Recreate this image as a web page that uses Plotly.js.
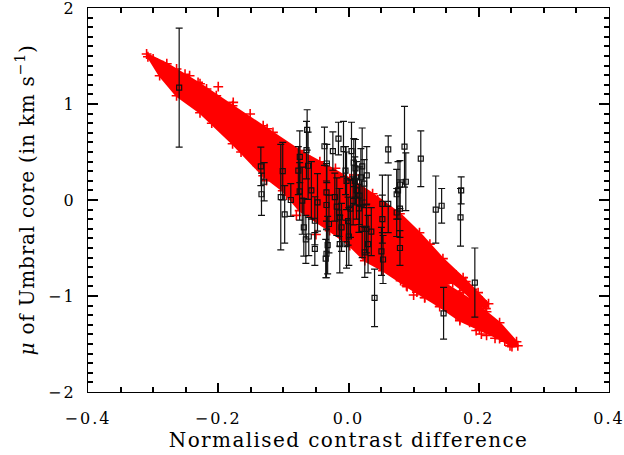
<!DOCTYPE html>
<html>
<head>
<meta charset="utf-8">
<script src="https://cdn.plot.ly/plotly-3.0.1.min.js"></script>
<style>
html,body{margin:0;padding:0;background:#fff;}
#chart{width:624px;height:455px;}
.xtick text,.ytick text{letter-spacing:2px;}
.xtitle{letter-spacing:1.4px;}
.ytitle{letter-spacing:0.8px;}
</style>
</head>
<body>
<div id="chart"></div>
<script>
// Observed points: normalised contrast difference vs mu of umbral core, with 1-sigma errors
const obsX = [-0.260,-0.1346,-0.1295,-0.1336,-0.101,-0.104,-0.098,-0.0886,-0.0748,-0.077,-0.075,-0.071,-0.0686,-0.0655,-0.0635,-0.0645,-0.062,-0.061,-0.0517,-0.0517,-0.0476,-0.0369,-0.0333,-0.0338,-0.0338,-0.032,-0.0338,-0.035,-0.030,-0.024,-0.0154,-0.0077,-0.021,-0.018,-0.0144,-0.0134,-0.0107,-0.0134,-0.0046,-0.003,0.0046,0.0081,0.0107,0.0097,0.0123,0.0071,0.003,-0.0006,0.0005,-0.003,0.021,0.019,0.024,0.017,0.016,0.021,0.025,0.030,0.028,0.040,0.0506,0.052,0.052,0.061,0.061,0.074,0.076,0.079,0.079,0.074,0.086,0.088,0.079,0.111,0.134,0.143,0.173,0.172,0.146,0.194,0.053,0.035,-0.057,0.0276];
const obsY = [1.17,0.35,0.19,0.06,0.30,0.03,-0.15,0.00,0.45,0.305,0.09,-0.007,-0.285,-0.41,0.73,0.52,0.357,-0.38,-0.51,-0.216,-0.025,0.56,0.38,0.08,-0.052,-0.47,-0.56,-0.61,-0.25,0.51,0.64,0.53,0.03,-0.07,-0.13,-0.18,-0.285,-0.46,0.305,0.20,0.51,0.39,0.33,0.20,0.10,-0.01,-0.09,-0.22,-0.38,-0.46,0.35,0.235,0.17,0.045,-0.087,-0.30,-0.545,-0.46,0.256,-1.02,-0.535,-0.04,-0.20,0.527,-0.04,0.06,0.10,0.16,-0.09,-0.13,0.555,0.19,-0.50,0.43,-0.10,-0.06,0.10,-0.18,-1.18,-0.86,-0.62,-0.33,0.10,-0.30];
const obsErr = [0.62,0.20,0.20,0.22,0.30,0.55,0.30,0.17,0.27,0.25,0.30,0.35,0.30,0.25,0.21,0.30,0.35,0.20,0.17,0.25,0.30,0.20,0.20,0.30,0.25,0.30,0.25,0.20,0.30,0.20,0.17,0.29,0.25,0.30,0.25,0.30,0.25,0.30,0.25,0.30,0.30,0.25,0.30,0.25,0.30,0.25,0.30,0.25,0.30,0.25,0.40,0.30,0.25,0.30,0.25,0.30,0.26,0.30,0.30,0.30,0.25,0.30,0.25,0.14,0.30,0.26,0.30,0.25,0.30,0.25,0.42,0.30,0.18,0.29,0.35,0.18,0.14,0.30,0.27,0.36,0.25,0.25,0.30,0.25];

// Model band outline (red region)
const bandX = [-0.310,-0.279,-0.228,-0.178,-0.125,-0.075,-0.044,0.002,0.037,0.079,0.109,0.145,0.176,0.199,0.215,0.211,0.194,0.176,0.160,0.148,0.171,0.194,0.212,0.232,0.258,0.260,0.251,0.232,0.201,0.171,0.140,0.117,0.090,0.053,0.025,0.002,-0.029,-0.075,-0.101,-0.131,-0.178,-0.228,-0.264,-0.290,-0.308];
const bandY = [1.521,1.420,1.211,0.982,0.742,0.514,0.399,0.222,0.065,-0.143,-0.341,-0.611,-0.809,-0.965,-1.080,-1.132,-1.059,-0.945,-0.861,-0.872,-0.966,-1.070,-1.164,-1.278,-1.476,-1.518,-1.528,-1.445,-1.351,-1.257,-1.111,-1.018,-0.903,-0.736,-0.632,-0.476,-0.320,-0.111,0.097,0.253,0.586,0.909,1.086,1.295,1.492];

// Scattered model crosses near the band edges
const crossX = [-0.264,-0.251,-0.244,-0.231,-0.218,-0.203,-0.177,-0.151,-0.131,-0.116,-0.105,-0.085,-0.059,-0.157,-0.126,-0.116,0.089,0.117,0.135,0.150,0.158,0.171,0.186,0.196,0.204,0.212,-0.300,-0.285,-0.270,-0.190,-0.140,-0.095,0.060,0.100,0.225,0.240,0.248,0.205,0.165,0.130,-0.210,-0.165,-0.145,-0.020,0.010,0.045,0.070,0.125,0.180,0.190,0.105,0.080,-0.050,-0.080,-0.200,-0.245];
const crossY = [1.365,1.31,1.295,1.225,1.156,1.086,1.017,0.896,0.774,0.704,0.60,0.461,0.409,0.548,0.201,0.219,-0.893,-1.015,-1.05,-1.10,-1.135,-1.24,-1.275,-1.36,-1.396,-1.41,1.47,1.40,1.33,0.72,0.36,0.05,-0.71,-0.99,-1.44,-1.47,-1.52,-1.05,-0.78,-0.60,0.80,0.50,0.42,0.33,0.26,0.00,-0.20,-0.46,-0.85,-0.93,-0.96,-0.84,-0.36,-0.16,1.18,1.08];

const xRange = [-0.4, 0.4];
const yRange = [-2, 2];

const red = '#ff0000';
const traces = [
  {x: bandX, y: bandY, type: 'scatter', mode: 'lines+markers', fill: 'toself',
   fillcolor: red, line: {color: red, width: 2},
   marker: {symbol: 'cross-thin-open', size: 7, color: red, line: {color: red, width: 1.6}},
   hoverinfo: 'skip', showlegend: false},
  {x: crossX, y: crossY, type: 'scatter', mode: 'markers',
   marker: {symbol: 'cross-thin-open', size: 7, color: red, line: {color: red, width: 1.6}}, showlegend: false},
  {x: obsX, y: obsY, type: 'scatter', mode: 'markers',
   marker: {symbol: 'square-open', size: 5, color: '#111', line: {color: '#111', width: 1.2}},
   error_y: {type: 'data', array: obsErr, visible: true, color: '#111', thickness: 1.2, width: 3.5},
   showlegend: false},
  // invisible copy that carries the tick-only axes
  {x: obsX, y: obsY, xaxis: 'x2', yaxis: 'y2', type: 'scatter', mode: 'markers',
   marker: {opacity: 0}, hoverinfo: 'skip', showlegend: false}
];

const tickFont = {family: 'DejaVu Serif, serif', size: 16, color: '#000'};
const titleFont = {family: 'DejaVu Serif, serif', size: 20, color: '#000'};
const tickAxis = {ticks: 'inside', tickwidth: 1.5, tickcolor: '#000', showticklabels: false,
  showline: true, linecolor: '#000', linewidth: 1.2, mirror: 'allticks',
  showgrid: false, zeroline: false};
const layout = {
  width: 624, height: 455,
  margin: {l: 88, r: 15, t: 8, b: 63},
  paper_bgcolor: '#fff', plot_bgcolor: '#fff',
  showlegend: false,
  font: tickFont,
  xaxis: {
    range: xRange, tick0: -0.4, dtick: 0.2, tickformat: '.1f', tickfont: tickFont,
    ticks: '', showline: true, linecolor: '#000', linewidth: 1.2, mirror: true,
    showgrid: false, zeroline: false, ticklabelstandoff: 12, ticklabeloverflow: 'allow',
    title: {text: 'Normalised contrast difference', font: titleFont, standoff: 3}
  },
  yaxis: {
    range: yRange, tick0: -2, dtick: 1, tickformat: 'd', tickfont: tickFont,
    ticks: '', showline: true, linecolor: '#000', linewidth: 1.2, mirror: true,
    showgrid: false, zeroline: false, ticklabelstandoff: 8, ticklabeloverflow: 'allow',
    title: {text: '<i>μ</i> of Umbral core (in km s<sup>−1</sup>)', font: titleFont, standoff: 8}
  },
  xaxis2: Object.assign({overlaying: 'x', anchor: 'y2', range: xRange, tick0: -0.4, dtick: 0.2, ticklen: 9,
    minor: {dtick: 0.05, ticks: 'inside', ticklen: 5, tickwidth: 1.5, tickcolor: '#000', showgrid: false}}, tickAxis),
  yaxis2: Object.assign({overlaying: 'y', anchor: 'x2', range: yRange, tick0: -2, dtick: 1, ticklen: 10,
    minor: {dtick: 0.1, ticks: 'inside', ticklen: 5, tickwidth: 1.5, tickcolor: '#000', showgrid: false}}, tickAxis)
};
Plotly.newPlot('chart', traces, layout, {displayModeBar: false});
</script>
</body>
</html>
